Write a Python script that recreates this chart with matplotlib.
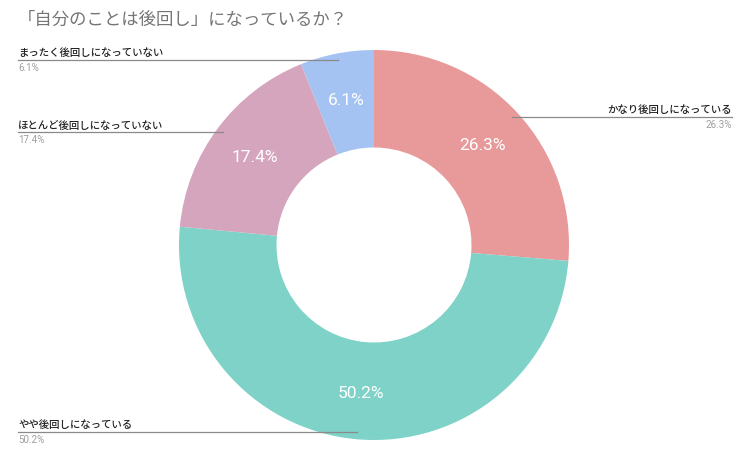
import numpy as np
import matplotlib.pyplot as plt

plt.rcParams['font.family'] = ['Noto Sans CJK JP', 'DejaVu Sans']

# ----------------------------
# Data
# ----------------------------
title = "「自分のことは後回し」になっているか？"
labels = ["かなり後回しになっている", "やや後回しになっている",
          "ほとんど後回しになっていない", "まったく後回しになっていない"]
values = [26.3, 50.2, 17.4, 6.1]
colors = ["#E8999A", "#7ED2C8", "#D5A5BE", "#A5C3F2"]

# ----------------------------
# Figure in pixel coords
# ----------------------------
W, H = 756, 464
fig = plt.figure(figsize=(W / 100, H / 100), dpi=100)
ax = fig.add_axes([0, 0, 1, 1])
ax.set_xlim(0, W)
ax.set_ylim(0, H)
ax.set_aspect("equal")
ax.axis("off")

cx, cy, R = 374, H - 246, 195

wedges, _, autotexts = ax.pie(
    values, colors=colors, startangle=90, counterclock=False,
    center=(cx, cy), radius=R, autopct="%.1f%%", pctdistance=0.76,
    wedgeprops=dict(width=R * 0.5, edgecolor="none"),
    textprops=dict(color="white", fontsize=12.5,
                   family=["Roboto", "DejaVu Sans"]),
)
ax.set_xlim(0, W)
ax.set_ylim(0, H)

fig.text(18 / W, 1 - 20 / H, title, fontsize=12.5, color="#757575",
         va="center", ha="left")

# ----------------------------
# Leader lines + labels
# ----------------------------
for w, lab, v in zip(wedges, labels, values):
    ang = np.deg2rad((w.theta1 + w.theta2) / 2)
    x0 = cx + 0.965 * R * np.cos(ang)
    y0 = cy + 0.965 * R * np.sin(ang)
    if np.cos(ang) >= 0:
        x1, ha = 732, "right"
    else:
        x1, ha = 18, "left"
    ax.plot([x0, x1], [y0, y0], color="#8a8a8a", lw=0.9)
    ax.text(x1, y0 + 3, lab, fontsize=7.5, color="#222222", ha=ha, va="bottom",
            weight="medium")
    ax.text(x1, y0 - 2, f"{v:.1f}%", fontsize=7, color="#9e9e9e", ha=ha, va="top",
            family=["Roboto", "DejaVu Sans"])

plt.savefig("out.png", dpi=100)
